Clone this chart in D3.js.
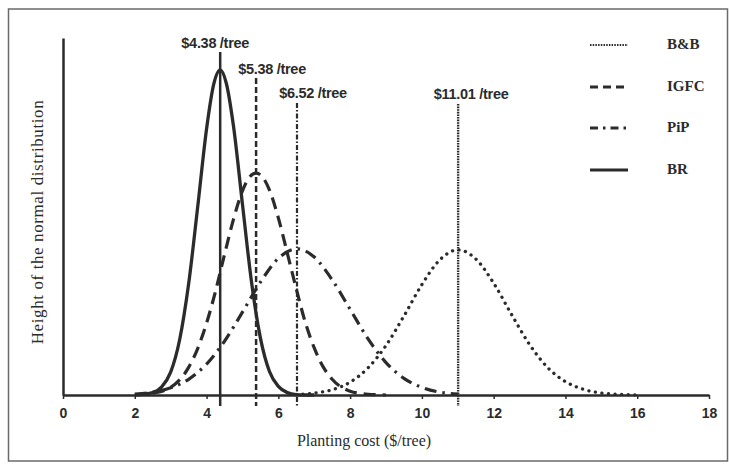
<!DOCTYPE html>
<html>
<head>
<meta charset="utf-8">
<script src="https://cdn.jsdelivr.net/npm/d3@7"></script>
<style>
  html, body { margin: 0; padding: 0; background: #fff; }
  svg { display: block; }
</style>
</head>
<body>
<svg id="chart" width="729" height="464"></svg>
<script>
// ---------------- data ----------------
const seriesNames = ["B&B", "IGFC", "PiP", "BR"];
const meanCosts = [11.01, 5.38, 6.52, 4.38];
const meanLabels = ["$11.01 /tree", "$5.38 /tree", "$6.52 /tree", "$4.38 /tree"];
const xTicks = [0, 2, 4, 6, 8, 10, 12, 14, 16, 18];

const brX   = [2.0, 2.5, 2.75, 3.0, 3.25, 3.5, 3.75, 4.0, 4.2, 4.38, 4.55, 4.75, 5.0, 5.25, 5.5, 5.75, 6.0, 6.25, 6.5, 7.0];
const brY   = [0.0002, 0.005, 0.017, 0.048, 0.116, 0.233, 0.393, 0.559, 0.653, 0.683, 0.655, 0.565, 0.401, 0.239, 0.120, 0.050, 0.018, 0.005, 0.001, 0];

const igfcX = [2.5, 3.0, 3.5, 3.75, 4.0, 4.25, 4.5, 4.75, 5.0, 5.2, 5.38, 5.56, 5.75, 6.0, 6.25, 6.5, 6.75, 7.0, 7.25, 7.5, 8.0, 8.5, 9.0];
const igfcY = [0.004, 0.016, 0.058, 0.097, 0.151, 0.218, 0.295, 0.369, 0.429, 0.458, 0.466, 0.458, 0.431, 0.372, 0.298, 0.223, 0.153, 0.099, 0.059, 0.033, 0.008, 0.0015, 0];

const pipX  = [2.0, 2.5, 3.0, 3.5, 4.0, 4.5, 5.0, 5.5, 6.0, 6.52, 7.0, 7.5, 8.0, 8.5, 9.0, 9.5, 10.0, 10.5, 11.0];
const pipY  = [0.002, 0.006, 0.015, 0.033, 0.065, 0.113, 0.174, 0.237, 0.287, 0.307, 0.290, 0.242, 0.180, 0.118, 0.068, 0.035, 0.016, 0.006, 0.002];

const bbX   = [6.5, 7.0, 7.5, 8.0, 8.5, 9.0, 9.5, 10.0, 10.5, 11.01, 11.5, 12.0, 12.5, 13.0, 13.5, 14.0, 14.5, 15.0, 15.5, 16.0];
const bbY   = [0.001, 0.004, 0.011, 0.027, 0.057, 0.104, 0.166, 0.232, 0.284, 0.305, 0.286, 0.235, 0.169, 0.106, 0.058, 0.028, 0.012, 0.004, 0.0015, 0];

const seriesX = [bbX, igfcX, pipX, brX];
const seriesY = [bbY, igfcY, pipY, brY];

// ---------------- layout / styles ----------------
const ink = "#2b2b2b";
const styles = [
  { dash: "0.1 6.5", width: 3.3, cap: "round" },          // B&B dotted
  { dash: "12 7", width: 3.2, cap: "butt" },              // IGFC dashed
  { dash: "12 6 2.5 6", width: 3.2, cap: "butt" },        // PiP dash-dot
  { dash: null, width: 3.3, cap: "butt" }                 // BR solid
];
const vStyles = [
  { dash: "1.6 1", width: 2.4 },
  { dash: "6 3", width: 2.5 },
  { dash: "5 2 1.5 2", width: 2.2 },
  { dash: null, width: 2.5 }
];
const legendStyles = [
  { dash: "1.5 1.2", width: 2 },
  { dash: "8 5", width: 2.8 },
  { dash: "8 5 2.5 5", width: 2.8 },
  { dash: null, width: 3.2 }
];
const labelLayout = [
  { dx: 13, y: 95, top: 104 },
  { dx: 16, y: 70, top: 78 },
  { dx: 16, y: 94, top: 103 },
  { dx: -5, y: 44, top: 52 }
];
const legendRows = [45, 87, 128, 170];

const svg = d3.select("#chart");

// frame
svg.append("rect")
  .attr("x", 8.5).attr("y", 9).attr("width", 719).attr("height", 452)
  .attr("fill", "none").attr("stroke", "#6a6a6a").attr("stroke-width", 1.5);

const x = d3.scaleLinear().domain([0, 18]).range([63, 709]);
const y = d3.scaleLinear().domain([0, 0.75]).range([395, 38]);

// x axis
const xAxis = d3.axisBottom(x).tickValues(xTicks).tickSize(4).tickSizeOuter(0).tickPadding(9).tickFormat(d3.format("d"));
const gx = svg.append("g").attr("transform", "translate(0,395)").call(xAxis);
gx.select(".domain").attr("stroke", ink).attr("stroke-width", 2.5);
gx.selectAll(".tick line").attr("stroke", ink).attr("stroke-width", 1.5);
gx.selectAll(".tick text")
  .attr("fill", ink)
  .style("font-family", "'Liberation Sans', Arial, sans-serif")
  .style("font-weight", "bold")
  .style("font-size", "14px");

// y axis (no ticks)
const yAxis = d3.axisLeft(y).tickValues([]).tickSize(0).tickSizeOuter(0);
const gy = svg.append("g").attr("transform", "translate(63,0)").call(yAxis);
gy.select(".domain").attr("stroke", ink).attr("stroke-width", 2.5);

// axis titles
svg.append("text")
  .attr("x", 364).attr("y", 446)
  .attr("text-anchor", "middle")
  .attr("fill", ink)
  .style("font-family", "'Liberation Serif', 'Times New Roman', serif")
  .style("font-size", "16px")
  .text("Planting cost ($/tree)");

svg.append("text")
  .attr("transform", "translate(43,222) rotate(-90)")
  .attr("text-anchor", "middle")
  .attr("fill", ink)
  .style("font-family", "'Liberation Serif', 'Times New Roman', serif")
  .style("font-size", "17px")
  .style("letter-spacing", "0.6px")
  .text("Height of the normal distribution");

// curves
const line = d3.line()
  .x(d => x(d[0]))
  .y(d => y(d[1]))
  .curve(d3.curveMonotoneX);

seriesNames.forEach((name, i) => {
  const pts = seriesX[i].map((v, j) => [v, seriesY[i][j]]);
  const p = svg.append("path")
    .datum(pts)
    .attr("d", line)
    .attr("fill", "none")
    .attr("stroke", ink)
    .attr("stroke-width", styles[i].width)
    .attr("stroke-linecap", styles[i].cap)
    .attr("stroke-linejoin", "round");
  if (styles[i].dash) p.attr("stroke-dasharray", styles[i].dash);
});

// vertical mean lines + labels
meanCosts.forEach((m, i) => {
  const L = labelLayout[i];
  const v = svg.append("line")
    .attr("x1", x(m)).attr("x2", x(m))
    .attr("y1", L.top).attr("y2", 406)
    .attr("stroke", ink)
    .attr("stroke-width", vStyles[i].width);
  if (vStyles[i].dash) v.attr("stroke-dasharray", vStyles[i].dash);

  svg.append("text")
    .attr("x", x(m) + L.dx).attr("y", L.y)
    .attr("text-anchor", "middle")
    .attr("dominant-baseline", "middle")
    .attr("fill", ink)
    .style("font-family", "'Liberation Sans', Arial, sans-serif")
    .style("font-weight", "bold")
    .style("font-size", "14.5px")
    .style("letter-spacing", "-0.3px")
    .text(meanLabels[i]);
});

// legend
seriesNames.forEach((name, i) => {
  const ly = legendRows[i];
  const l = svg.append("line")
    .attr("x1", 590).attr("x2", 628)
    .attr("y1", ly).attr("y2", ly)
    .attr("stroke", ink)
    .attr("stroke-width", legendStyles[i].width);
  if (legendStyles[i].dash) l.attr("stroke-dasharray", legendStyles[i].dash);
  svg.append("text")
    .attr("x", 667).attr("y", ly + 1)
    .attr("dominant-baseline", "middle")
    .attr("fill", ink)
    .style("font-family", "'Liberation Serif', 'Times New Roman', serif")
    .style("font-weight", "bold")
    .style("font-size", "15px")
    .text(name);
});
</script>
</body>
</html>
